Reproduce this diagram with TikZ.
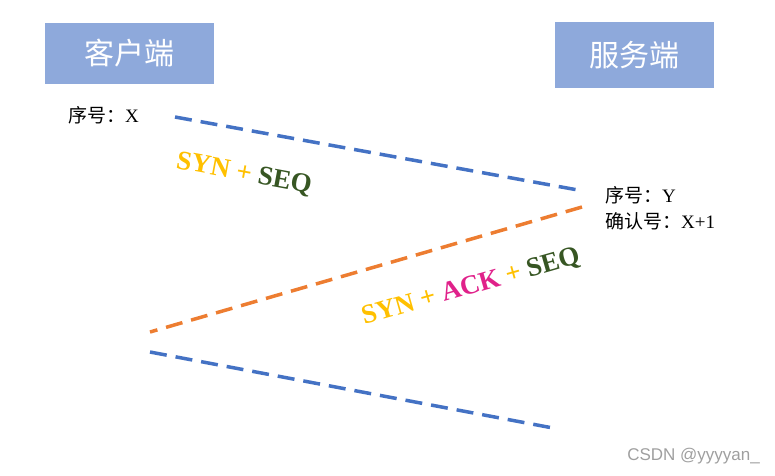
\documentclass[tikz,border=0pt]{standalone}
\usepackage{fontspec}
\setmainfont{Liberation Serif}
\newfontfamily\cjk{Noto Sans CJK SC}
\newfontfamily\wmfont{Liberation Sans}
\definecolor{boxblue}{HTML}{8EA9DB}
\definecolor{lineblue}{HTML}{4472C4}
\definecolor{lineorange}{HTML}{ED7D31}
\definecolor{synyellow}{HTML}{FFC000}
\definecolor{ackpink}{HTML}{E0218A}
\definecolor{seqgreen}{HTML}{375623}
\begin{document}
\begin{tikzpicture}[x=1pt,y=-1pt,
  hostbox/.style={fill=boxblue,draw=none,text=white,minimum width=#1,font=\cjk\fontsize{30}{33}\selectfont,inner sep=0pt},
  seqline/.style={line width=3.5pt,dash pattern=on 17pt off 9pt},
  note/.style={anchor=west,inner sep=0pt,font=\fontsize{19}{22}\selectfont},
  pkt/.style={inner sep=0pt,font=\bfseries\fontsize{27}{30}\selectfont}]
\useasboundingbox (0,0) rectangle (775,475);
\node[hostbox=169pt,minimum height=61pt] (client) at (129.5,53.5) {客户端};
\node[hostbox=159pt,minimum height=66pt] (server) at (634.5,55) {服务端};
\node[note] (cseq) at (68,115) {{\cjk 序号：}X};
\node[note] (sseq) at (605,195) {{\cjk 序号：}Y};
\node[note] (sack) at (605,221) {{\cjk 确认号：}X+1};
\coordinate (a1) at (175,117);
\coordinate (a2) at (578,190);
\coordinate (b1) at (582,207);
\coordinate (b2) at (150,332);
\coordinate (c1) at (150,352);
\coordinate (c2) at (553,428);
\draw[seqline,lineblue] (a1) -- (a2);
\draw[seqline,lineorange] (b1) -- (b2);
\draw[seqline,lineblue] (c1) -- (c2);
\node[pkt,rotate=-10.5] (l1) at (244,174) {{\color{synyellow}SYN\ +\ }{\color{seqgreen}SEQ}};
\node[pkt,rotate=16] (l2) at (471,287) {{\color{synyellow}SYN\ +\ }{\color{ackpink}ACK}{\color{synyellow}\ +\ }{\color{seqgreen}SEQ}};
\node[anchor=east,inner sep=0pt,text=gray!75,font=\wmfont\fontsize{17}{19}\selectfont] (wm) at (760,456) {CSDN @yyyyan\_};
\end{tikzpicture}
\end{document}
